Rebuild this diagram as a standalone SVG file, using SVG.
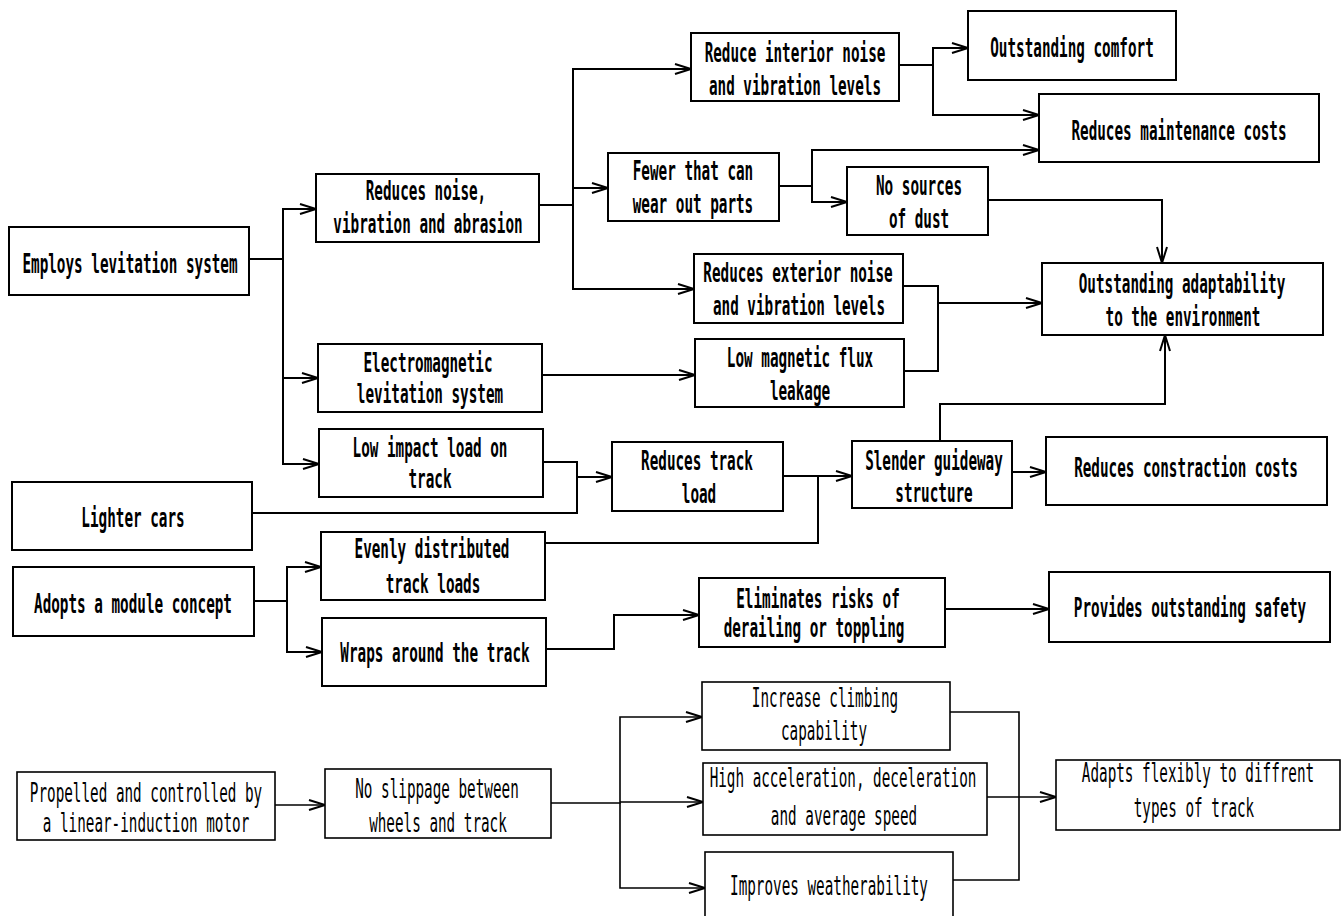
<svg xmlns="http://www.w3.org/2000/svg" width="1342" height="916" viewBox="0 0 1342 916">
<style>
.b{fill:#fff;stroke:#000;stroke-width:2}
.c{fill:none;stroke:#000;stroke-width:2}
.t{font-family:"DejaVu Sans Mono","Liberation Mono",monospace;font-size:26px;font-weight:bold;fill:#000;text-anchor:middle}
.l{font-weight:normal}
.bl{stroke-width:1.6}
</style>
<defs>
<marker id="a" markerUnits="userSpaceOnUse" markerWidth="18" markerHeight="12" refX="17" refY="6" orient="auto" overflow="visible">
<path d="M1,1 L17,6 L1,11" fill="none" stroke="#000" stroke-width="2"/>
</marker>
</defs>
<rect width="1342" height="916" fill="#fff"/>
<g id="connectors">
<path class="c" d="M249,259 H283 V209 H316" marker-end="url(#a)"/>
<path class="c" d="M283,259 V464 H319" marker-end="url(#a)"/>
<path class="c" d="M283,378 H318" marker-end="url(#a)"/>
<path class="c" d="M539,205 H573 V69 H691" marker-end="url(#a)"/>
<path class="c" d="M573,205 V289 H694" marker-end="url(#a)"/>
<path class="c" d="M573,188 H608" marker-end="url(#a)"/>
<path class="c" d="M899,65 H933 V48 H968" marker-end="url(#a)"/>
<path class="c" d="M933,65 V115 H1039" marker-end="url(#a)"/>
<path class="c" d="M779,186 H812 V150 H1039" marker-end="url(#a)"/>
<path class="c" d="M812,186 V202 H847" marker-end="url(#a)"/>
<path class="c" d="M988,200 H1162 V263" marker-end="url(#a)"/>
<path class="c" d="M903,286 H938 V371 H904"/>
<path class="c" d="M938,303 H1042" marker-end="url(#a)"/>
<path class="c" d="M542,375 H695" marker-end="url(#a)"/>
<path class="c" d="M940,441 V404 H1165 V335" marker-end="url(#a)"/>
<path class="c" d="M1012,472 H1046" marker-end="url(#a)"/>
<path class="c" d="M543,462 H577 V513 H252"/>
<path class="c" d="M577,477 H612" marker-end="url(#a)"/>
<path class="c" d="M783,476 H852" marker-end="url(#a)"/>
<path class="c" d="M818,476 V543 H545"/>
<path class="c" d="M254,601 H287 V567 H321" marker-end="url(#a)"/>
<path class="c" d="M287,601 V652 H322" marker-end="url(#a)"/>
<path class="c" d="M546,649 H614 V615 H699" marker-end="url(#a)"/>
<path class="c" d="M945,609 H1049" marker-end="url(#a)"/>
<path class="c bl" d="M275,805 H325" marker-end="url(#a)"/>
<path class="c bl" d="M551,803 H620 V717 H702" marker-end="url(#a)"/>
<path class="c bl" d="M620,803 V888 H705" marker-end="url(#a)"/>
<path class="c bl" d="M620,802 H703" marker-end="url(#a)"/>
<path class="c bl" d="M950,712 H1019 V880 H953"/>
<path class="c bl" d="M987,797 H1056" marker-end="url(#a)"/>
</g>
<g id="employs"><rect class="b" x="9" y="227" width="240" height="68"/>
<text class="t" transform="translate(130,273) scale(.55,1)">Employs levitation system</text></g>
<g id="reduces-noise"><rect class="b" x="316" y="174" width="223" height="68"/>
<text class="t" transform="translate(426,200) scale(.55,1)">Reduces noise,</text>
<text class="t" transform="translate(428,233) scale(.55,1)">vibration and abrasion</text></g>
<g id="reduce-interior"><rect class="b" x="691" y="33" width="208" height="68"/>
<text class="t" transform="translate(795,62) scale(.55,1)">Reduce interior noise</text>
<text class="t" transform="translate(795,95) scale(.55,1)">and vibration levels</text></g>
<g id="comfort"><rect class="b" x="968" y="11" width="208" height="69"/>
<text class="t" transform="translate(1072,57) scale(.55,1)">Outstanding comfort</text></g>
<g id="maintenance"><rect class="b" x="1039" y="94" width="280" height="68"/>
<text class="t" transform="translate(1179,140) scale(.55,1)">Reduces maintenance costs</text></g>
<g id="fewer"><rect class="b" x="608" y="153" width="171" height="68"/>
<text class="t" transform="translate(693,180) scale(.55,1)">Fewer that can</text>
<text class="t" transform="translate(693,213) scale(.55,1)">wear out parts</text></g>
<g id="dust"><rect class="b" x="847" y="167" width="141" height="68"/>
<text class="t" transform="translate(919,195) scale(.55,1)">No sources</text>
<text class="t" transform="translate(919,228) scale(.55,1)">of dust</text></g>
<g id="exterior"><rect class="b" x="694" y="254" width="209" height="69"/>
<text class="t" transform="translate(798,282) scale(.55,1)">Reduces exterior noise</text>
<text class="t" transform="translate(799,315) scale(.55,1)">and vibration levels</text></g>
<g id="adaptability"><rect class="b" x="1042" y="263" width="281" height="72"/>
<text class="t" transform="translate(1182,293) scale(.55,1)">Outstanding adaptability</text>
<text class="t" transform="translate(1183,326) scale(.55,1)">to the environment</text></g>
<g id="electromagnetic"><rect class="b" x="318" y="344" width="224" height="68"/>
<text class="t" transform="translate(428,372) scale(.55,1)">Electromagnetic</text>
<text class="t" transform="translate(430,403) scale(.55,1)">levitation system</text></g>
<g id="flux"><rect class="b" x="695" y="339" width="209" height="68"/>
<text class="t" transform="translate(800,367) scale(.55,1)">Low magnetic flux</text>
<text class="t" transform="translate(800,400) scale(.55,1)">leakage</text></g>
<g id="impact"><rect class="b" x="319" y="429" width="224" height="68"/>
<text class="t" transform="translate(430,457) scale(.55,1)">Low impact load on</text>
<text class="t" transform="translate(430,488) scale(.55,1)">track</text></g>
<g id="lighter"><rect class="b" x="12" y="482" width="240" height="68"/>
<text class="t" transform="translate(133,527) scale(.55,1)">Lighter cars</text></g>
<g id="track-load"><rect class="b" x="612" y="442" width="171" height="69"/>
<text class="t" transform="translate(697,470) scale(.55,1)">Reduces track</text>
<text class="t" transform="translate(699,503) scale(.55,1)">load</text></g>
<g id="slender"><rect class="b" x="852" y="441" width="160" height="67"/>
<text class="t" transform="translate(934,470) scale(.55,1)">Slender guideway</text>
<text class="t" transform="translate(934,502) scale(.55,1)">structure</text></g>
<g id="construction"><rect class="b" x="1046" y="437" width="281" height="68"/>
<text class="t" transform="translate(1186,477) scale(.55,1)">Reduces constraction costs</text></g>
<g id="evenly"><rect class="b" x="321" y="532" width="224" height="68"/>
<text class="t" transform="translate(432,558) scale(.55,1)">Evenly distributed</text>
<text class="t" transform="translate(433,593) scale(.55,1)">track loads</text></g>
<g id="module"><rect class="b" x="13" y="567" width="241" height="69"/>
<text class="t" transform="translate(133,613) scale(.55,1)">Adopts a module concept</text></g>
<g id="wraps"><rect class="b" x="322" y="618" width="224" height="68"/>
<text class="t" transform="translate(435,662) scale(.55,1)">Wraps around the track</text></g>
<g id="eliminates"><rect class="b" x="699" y="578" width="246" height="69"/>
<text class="t" transform="translate(818,608) scale(.55,1)">Eliminates risks of</text>
<text class="t" transform="translate(814,637) scale(.55,1)">derailing or toppling</text></g>
<g id="safety"><rect class="b" x="1049" y="572" width="281" height="70"/>
<text class="t" transform="translate(1190,617) scale(.55,1)">Provides outstanding safety</text></g>
<g id="propelled"><rect class="b bl" x="17" y="772" width="258" height="68"/>
<text class="t l" transform="translate(146,802) scale(.55,1)">Propelled and controlled by</text>
<text class="t l" transform="translate(146,832) scale(.55,1)">a linear-induction motor</text></g>
<g id="slippage"><rect class="b bl" x="325" y="769" width="226" height="69"/>
<text class="t l" transform="translate(437,798) scale(.55,1)">No slippage between</text>
<text class="t l" transform="translate(438,832) scale(.55,1)">wheels and track</text></g>
<g id="climbing"><rect class="b bl" x="702" y="682" width="248" height="68"/>
<text class="t l" transform="translate(825,707) scale(.55,1)">Increase climbing</text>
<text class="t l" transform="translate(824,740) scale(.55,1)">capability</text></g>
<g id="acceleration"><rect class="b bl" x="703" y="763" width="284" height="72"/>
<text class="t l" transform="translate(843,787) scale(.55,1)">High acceleration, deceleration</text>
<text class="t l" transform="translate(844,825) scale(.55,1)">and average speed</text></g>
<g id="weatherability"><rect class="b bl" x="705" y="852" width="248" height="72"/>
<text class="t l" transform="translate(829,895) scale(.55,1)">Improves weatherability</text></g>
<g id="adapts"><rect class="b bl" x="1056" y="760" width="284" height="70"/>
<text class="t l" transform="translate(1198,782) scale(.55,1)">Adapts flexibly to diffrent</text>
<text class="t l" transform="translate(1194,817) scale(.55,1)">types of track</text></g>
</svg>
